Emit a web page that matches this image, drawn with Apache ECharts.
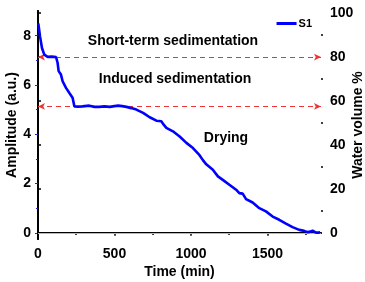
<!DOCTYPE html>
<html><head><meta charset="utf-8">
<script src="https://cdn.jsdelivr.net/npm/echarts@6/dist/echarts.min.js"></script>
<style>html,body{margin:0;padding:0;background:#fff}#c{width:365px;height:282px}</style>
</head><body><div id="c"></div>
<script>
const timeMin = [2, 4, 13, 26, 41, 63, 90, 118, 128, 135, 150, 161, 183, 204, 226, 237, 238, 260, 290, 335, 370, 400, 435, 469, 500, 524, 550, 578, 610, 643, 687, 730, 774, 806, 820, 839, 882, 926, 970, 1013, 1056, 1078, 1100, 1143, 1176, 1208, 1251, 1295, 1316, 1338, 1360, 1403, 1447, 1490, 1534, 1577, 1621, 1664, 1708, 1740, 1762, 1780, 1795, 1817, 1838, 1845];
const amplitudeS1 = [8.5, 8.46, 7.98, 7.5, 7.23, 7.14, 7.15, 7.13, 6.9, 6.56, 6.42, 6.15, 5.88, 5.68, 5.48, 5.43, 5.13, 5.12, 5.13, 5.16, 5.11, 5.11, 5.13, 5.11, 5.14, 5.16, 5.14, 5.11, 5.06, 5.0, 4.87, 4.69, 4.55, 4.53, 4.40, 4.26, 4.12, 3.91, 3.65, 3.44, 3.15, 2.95, 2.78, 2.56, 2.29, 2.15, 1.95, 1.75, 1.61, 1.59, 1.37, 1.23, 1.0, 0.87, 0.66, 0.53, 0.37, 0.23, 0.12, 0.08, 0.03, 0.05, 0.09, 0.01, 0.01, 0.02];
const xTicks = [0, 500, 1000, 1500];
const xMinorTicks = [250, 750, 1250, 1750];
const leftTicks = [0, 2, 4, 6, 8];
const leftMinorTicks = [1, 3, 5, 7];
const rightTicks = [0, 20, 40, 60, 80, 100];
const rightMinorTicks = [10, 30, 50, 70, 90];
const thresholds = [7.13, 5.13];
const annotations = [
  {text: 'Short-term sedimentation', x: 173, y: 41},
  {text: 'Induced sedimentation', x: 175, y: 79},
  {text: 'Drying', x: 226, y: 138}
];

const FONT = "'Liberation Sans', Arial, sans-serif";
const chart = echarts.init(document.getElementById('c'), null, {renderer: 'canvas'});
const X_MIN = 0, X_MAX = 1850, L_MIN = -0.25, L_MAX = 9, R_MIN = -2.7, R_MAX = 101;
const lbl = {fontFamily: FONT, fontWeight: 'bold', fontSize: 14, color: '#000'};
const plain = v => String(v);

const dashLine = v => [
  {coord: [X_MIN, v], symbol: 'arrow'},
  {coord: [X_MAX, v], symbol: 'arrow'}
];

chart.setOption({
  animation: false,
  backgroundColor: '#fff',
  grid: {left: 38, right: 44, top: 11, bottom: 43, containLabel: false, outerBoundsMode: 'none'},
  legend: {
    data: [{name: 'S1', icon: 'rect'}], right: 48, top: 13, itemWidth: 20, itemHeight: 3, itemGap: 2,
    itemStyle: {color: '#0000ff'},
    textStyle: {fontFamily: FONT, fontWeight: 'bold', fontSize: 11, color: '#000', padding: [0, 0, 0, -3]}
  },
  xAxis: [
    {
      type: 'value', position: 'bottom', min: X_MIN, max: X_MAX,
      name: 'Time (min)', nameLocation: 'middle', nameGap: 26, nameMoveOverlap: false, nameTextStyle: lbl,
      axisLine: {show: true, lineStyle: {color: '#000', width: 2}},
      axisTick: {show: true, customValues: xTicks, length: 3, lineStyle: {color: '#000', width: 1.5}},
      axisLabel: Object.assign({customValues: xTicks, margin: 8, formatter: plain}, lbl),
      splitLine: {show: false}
    },
    {
      type: 'value', position: 'bottom', min: X_MIN, max: X_MAX,
      axisLine: {show: false},
      axisTick: {show: true, customValues: xMinorTicks, length: 2, lineStyle: {color: '#000', width: 1.5}},
      axisLabel: {show: false}, splitLine: {show: false}
    },
    {
      type: 'value', position: 'top', min: X_MIN, max: X_MAX,
      axisLine: {show: true, lineStyle: {color: '#000', width: 1.5}},
      axisTick: {show: false}, axisLabel: {show: false}, splitLine: {show: false}
    }
  ],
  yAxis: [
    {
      type: 'value', position: 'left', min: L_MIN, max: L_MAX,
      name: 'Amplitude (a.u.)', nameLocation: 'middle', nameGap: 19, nameRotate: 90, nameMoveOverlap: false,
      nameTextStyle: lbl,
      axisLine: {show: true, lineStyle: {color: '#000', width: 2}},
      axisTick: {show: true, customValues: leftTicks, length: 3, lineStyle: {color: '#2020d0', width: 1}},
      axisLabel: Object.assign({customValues: leftTicks, margin: 7, formatter: plain}, lbl),
      splitLine: {show: false}
    },
    {
      type: 'value', position: 'right', min: R_MIN, max: R_MAX,
      name: 'Water volume %', nameLocation: 'middle', nameGap: 30, nameRotate: 90, nameMoveOverlap: false,
      nameTextStyle: lbl,
      axisLine: {show: true, lineStyle: {color: '#000', width: 2}},
      axisTick: {show: true, customValues: rightTicks, length: 3, lineStyle: {color: '#000', width: 1.5}},
      axisLabel: Object.assign({customValues: rightTicks, margin: 9, padding: [0, 0, 10, 0], formatter: plain}, lbl),
      splitLine: {show: false}
    },
    {
      type: 'value', position: 'left', min: L_MIN, max: L_MAX,
      axisLine: {show: false},
      axisTick: {show: true, customValues: leftMinorTicks, length: 2, lineStyle: {color: '#2020d0', width: 1}},
      axisLabel: {show: false}, splitLine: {show: false}
    },
    {
      type: 'value', position: 'right', min: R_MIN, max: R_MAX,
      axisLine: {show: false},
      axisTick: {show: true, customValues: rightMinorTicks, length: 2, lineStyle: {color: '#000', width: 1.5}},
      axisLabel: {show: false}, splitLine: {show: false}
    }
  ],
  graphic: annotations.map(a => ({
    type: 'text', x: a.x, y: a.y, z: 100, silent: true,
    style: {text: a.text, fill: '#000', font: 'bold 14px ' + FONT, textAlign: 'center', textVerticalAlign: 'middle'}
  })),
  series: [
    {
      name: 'S1', type: 'line', xAxisIndex: 0, yAxisIndex: 0,
      data: timeMin.map((t, i) => [t, amplitudeS1[i]]),
      symbol: 'none', showSymbol: false, z: 5,
      lineStyle: {color: '#0000ff', width: 2.6},
      itemStyle: {color: '#0000ff'},
      markLine: {
        silent: true, animation: false, symbolSize: [5, 7],
        label: {show: false},
        data: [
          [
            {coord: [X_MIN, 0], symbol: 'none', lineStyle: {color: '#b8b8b8', width: 1, type: 'solid'}},
            {coord: [X_MAX, 0], symbol: 'none'}
          ],
          ...thresholds.map(v => {
            const d = dashLine(v);
            d[0].lineStyle = {color: '#ee3333', width: 1.2, type: [5, 4]};
            return d;
          })
        ]
      }
    }
  ]
});
</script></body></html>
